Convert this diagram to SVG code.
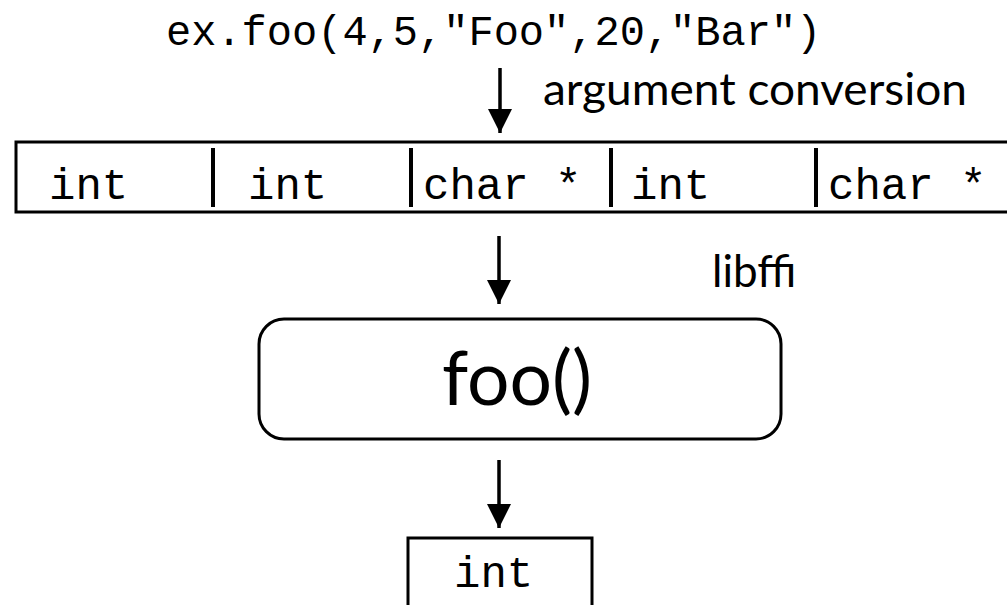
<svg xmlns="http://www.w3.org/2000/svg" width="1007" height="605" viewBox="0 0 1007 605">
<style>
.mono{font-family:"Liberation Mono","DejaVu Sans Mono",monospace;fill:#000}
.sans{font-family:Lato,"Open Sans","Noto Sans",sans-serif;fill:#000}
.box{fill:#fff;stroke:#000;stroke-width:3}
.div{stroke:#000;stroke-width:4}
.conn{stroke:#000;stroke-width:3.5;fill:none}
</style>
<defs>
<marker id="ad" markerUnits="userSpaceOnUse" markerWidth="26" markerHeight="26" viewBox="0 0 26 26" refX="24" refY="13" orient="auto">
<path d="M0,1 L24,13 L0,25 Z" fill="#000"/>
</marker>
</defs>
<g id="call">
<text class="mono" x="166" y="45" font-size="42">ex.foo(4,5,"Foo",20,"Bar")</text>
</g>
<g id="args">
<rect class="box" x="16" y="142" width="1000" height="70"/>
<line class="div" x1="213" y1="148" x2="213" y2="207"/>
<line class="div" x1="411" y1="148" x2="411" y2="207"/>
<line class="div" x1="611" y1="148" x2="611" y2="207"/>
<line class="div" x1="816" y1="148" x2="816" y2="207"/>
<text class="mono" x="49" y="199" font-size="44">int</text>
<text class="mono" x="248" y="199" font-size="44">int</text>
<text class="mono" x="423" y="199" font-size="44">char *</text>
<text class="mono" x="631" y="199" font-size="44">int</text>
<text class="mono" x="828" y="199" font-size="44">char *</text>
</g>
<g id="func">
<rect class="box" x="259" y="319" width="522" height="120" rx="25" ry="25"/>
<text class="sans" x="517" y="405" font-size="75" text-anchor="middle">foo()</text>
</g>
<g id="result">
<rect class="box" x="408" y="538" width="184" height="90"/>
<text class="mono" x="454" y="587" font-size="44">int</text>
</g>
<g id="labels">
<text class="sans" x="543" y="105" font-size="44" textLength="424" lengthAdjust="spacingAndGlyphs">argument conversion</text>
<text class="sans" x="712" y="287" font-size="44">libffi</text>
</g>
<g id="connectors">
<line class="conn" x1="500" y1="68" x2="500" y2="133" marker-end="url(#ad)"/>
<line class="conn" x1="499" y1="236" x2="499" y2="304" marker-end="url(#ad)"/>
<line class="conn" x1="499" y1="460" x2="499" y2="528" marker-end="url(#ad)"/>
</g>
</svg>
